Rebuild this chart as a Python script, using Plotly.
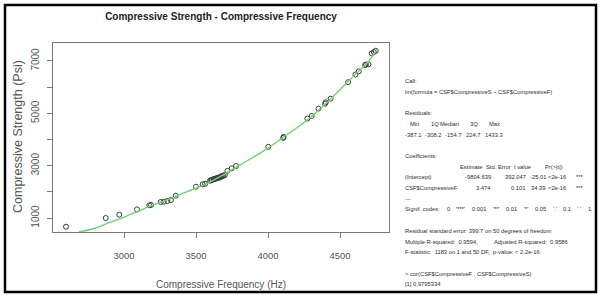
import plotly.graph_objects as go

# ---------------- data ----------------
freq = [2597, 2873, 2967, 3090, 3176, 3188, 3255, 3276, 3301, 3326, 3359,
        3500, 3546, 3563,
        3597, 3605, 3610, 3620, 3625, 3632, 3640, 3644, 3650, 3655, 3660, 3667,
        3672, 3678, 3685, 3690, 3700,
        3718, 3748, 3778,
        4002, 4106, 4108, 4273, 4303, 4350, 4396, 4401, 4435,
        4556, 4607, 4630, 4674, 4680, 4697, 4720, 4735, 4748]
strength = [668, 1000, 1126, 1330, 1485, 1497, 1611, 1623, 1650, 1688, 1852,
            2196, 2288, 2311,
            2426, 2440, 2450, 2479, 2490, 2502, 2510, 2517, 2530, 2540, 2548, 2555,
            2570, 2600, 2610, 2616, 2640,
            2800, 2899, 2987,
            3720, 4060, 4100, 4800, 4900, 5180, 5370, 5420, 5560,
            6190, 6480, 6600, 6846, 6860, 6873, 7290, 7340, 7390]

fit_freq = [2687, 2800, 2900, 3000, 3100, 3200, 3300, 3400, 3500, 3600, 3700,
            3800, 3900, 4000, 4100, 4200, 4300, 4400, 4500, 4600, 4700, 4760]
fit_strength = [465, 610, 830, 1030, 1265, 1490, 1690, 1920, 2140, 2380, 2690,
                3010, 3330, 3670, 4060, 4450, 4870, 5370, 5900, 6450, 7000, 7440]

x_ticks = [3000, 3500, 4000, 4500]
x_tick_labels = ["3000", "3500", "4000", "4500"]
y_ticks = [1000, 2000, 3000, 4000, 5000, 6000, 7000]
y_tick_labels = ["1000", "", "3000", "", "5000", "", "7000"]

chart_title = "Compressive Strength - Compressive Frequency"
x_title = "Compressive Frequency (Hz)"
y_title = "Compressive Strength (Psi)"

# R console output (each line split into its printed fields)
console_lines = [
    ["Call:"],
    ["lm(formula = CSF$CompressiveS ~ CSF$CompressiveF)"],
    [],
    ["Residuals:"],
    ["Min", "1Q", "Median", "3Q", "Max"],
    ["-387.1", "-308.2", "-154.7", "224.7", "1433.3"],
    [],
    ["Coefficients:"],
    ["Estimate", "Std. Error", "t value", "Pr(>|t|)"],
    ["(Intercept)", "-9804.639", "392.047", "-25.01", "<2e-16", "***"],
    ["CSF$CompressiveF", "3.474", "0.101", "34.39", "<2e-16", "***"],
    ["---"],
    ["Signif. codes:", "0", "'***'", "0.001", "'**'", "0.01", "'*'", "0.05", "'.'",
     "0.1", "' '", "1"],
    [],
    ["Residual standard error: 399.7 on 50 degrees of freedom"],
    ["Multiple R-squared:  0.9594,", "Adjusted R-squared:  0.9586"],
    ["F-statistic:  1183 on 1 and 50 DF,  p-value: < 2.2e-16"],
    [],
    ["> cor(CSF$CompressiveF , CSF$CompressiveS)"],
    ["[1] 0.9795334"],
]

# ---------------- layout geometry (pixels) ----------------
W, H = 599, 295
PL, PR, PT, PB = 53, 389, 43, 232


def px(x):
    return (x - PL) / (PR - PL)


def py(y):
    return (PB - y) / (PB - PT)


FONT = "Liberation Sans, Arial, sans-serif"
AXIS_GREY = "#7a7a7a"
TEXT_GREY = "#555555"

fig = go.Figure()
fig.add_trace(go.Scatter(
    x=freq, y=strength, mode="markers",
    marker=dict(symbol="circle-open", size=5, color="#3c3c3c",
                line=dict(width=1, color="#3c3c3c")),
    showlegend=False, hoverinfo="x+y"))
fig.add_trace(go.Scatter(
    x=fit_freq, y=fit_strength, mode="lines",
    line=dict(color="#6fd26f", width=1.4, shape="spline", smoothing=0.8),
    showlegend=False, hoverinfo="skip"))

annotations = []
annotations.append(dict(text=x_title, x=px(221), y=py(284), xref="paper", yref="paper",
                        showarrow=False, xanchor="center", yanchor="middle",
                        font=dict(family=FONT, size=10, color=TEXT_GREY)))
annotations.append(dict(text=y_title, x=px(18), y=py(137), xref="paper", yref="paper",
                        showarrow=False, xanchor="center", yanchor="middle", textangle=-90,
                        font=dict(family=FONT, size=12.5, color=TEXT_GREY)))

# console text placement: (x position, anchor) per field
L_ = "left"
R_ = "right"
seg_pos = {
    4: [(420.6, R_), (440.6, R_), (460.6, R_), (479.5, R_), (502, R_)],
    5: [(403, L_), (423, L_), (443, L_), (464, L_), (483, L_)],
    8: [(458, L_), (484, L_), (512, L_), (543, L_)],
    9: [(403, L_), (493, R_), (528, R_), (548, R_), (568, R_), (574, L_)],
    10: [(403, L_), (493, R_), (528, R_), (548, R_), (568, R_), (574, L_)],
    12: [(403, L_), (444.5, L_), (454.2, L_), (469.7, L_), (490.7, L_), (503.9, L_),
         (521.7, L_), (532.7, L_), (550.5, L_), (560.8, L_), (575.3, L_), (585.6, L_)],
    15: [(403, L_), (492, L_)],
}
line_y0, line_step = 81, 10.7
for i, segs in enumerate(console_lines):
    yy = line_y0 + i * line_step
    pos = seg_pos.get(i, [(403, L_)] * len(segs))
    for s, (xx, anc) in zip(segs, pos):
        annotations.append(dict(
            text=s.replace(" ", "\u00a0"), x=px(xx), y=py(yy),
            xref="paper", yref="paper", showarrow=False,
            xanchor=anc, yanchor="middle",
            font=dict(family=FONT, size=5.8, color="#2e2e2e")))

fig.update_layout(
    width=W, height=H,
    margin=dict(l=PL, r=W - PR, t=PT, b=H - PB, autoexpand=False),
    paper_bgcolor="white", plot_bgcolor="white",
    title=dict(text="<b>" + chart_title + "</b>", x=221 / W, y=1 - 16 / H,
               xref="container", yref="container", xanchor="center", yanchor="middle",
               font=dict(family=FONT, size=10, color="#222222")),
    xaxis=dict(range=[2507, 4840], tickvals=x_ticks, ticktext=x_tick_labels,
               ticks="outside", ticklen=5, tickwidth=1, tickcolor=AXIS_GREY,
               showline=True, mirror=True, linecolor=AXIS_GREY, linewidth=1.3,
               showgrid=False, zeroline=False, ticklabelstandoff=9,
               tickfont=dict(family=FONT, size=9.5, color=TEXT_GREY)),
    yaxis=dict(range=[465, 7687], tickvals=y_ticks, ticktext=y_tick_labels,
               ticks="outside", ticklen=5, tickwidth=1, tickcolor=AXIS_GREY,
               showline=True, mirror=True, linecolor=AXIS_GREY, linewidth=1.3,
               showgrid=False, zeroline=False, tickangle=-90, ticklabelstandoff=4,
               tickfont=dict(family=FONT, size=10, color=TEXT_GREY)),
    annotations=annotations,
    shapes=[dict(type="rect", xref="paper", yref="paper",
                 x0=px(5), x1=px(596), y0=py(292), y1=py(5),
                 line=dict(color="black", width=2.5), fillcolor="rgba(0,0,0,0)")],
)

fig.write_html("out.html", config={"displayModeBar": False},
               post_script="document.body.style.margin='0px';")
